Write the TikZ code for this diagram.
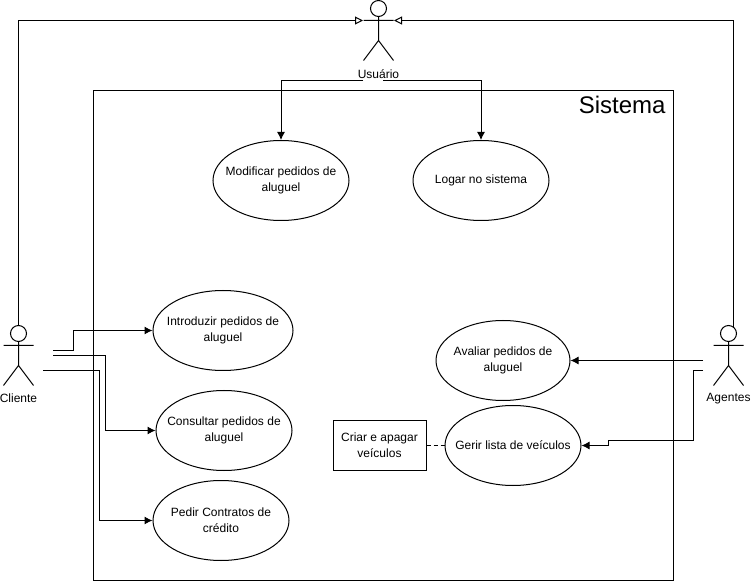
\documentclass[tikz,border=0pt]{standalone}
\usepackage{fontspec}
\setmainfont{Liberation Sans}
\usetikzlibrary{arrows.meta, shapes.geometric}
\tikzset{>={Latex[length=6pt, width=6pt]}}
\tikzset{
    usecase/.style={draw, ellipse, inner ysep=0pt, inner xsep=-30pt, minimum width=102pt, minimum height=60pt, align=center, font=\fontsize{9}{12}\selectfont},
    head/.style={draw, circle, inner sep=0pt, minimum size=12pt},
    actorname/.style={font=\fontsize{9}{11}\selectfont},
    conn/.style={->, line width=.75pt},
    inherit/.style={-{Triangle[open, length=6pt, width=6pt]}, line width=.75pt},
}

\begin{document}
\begin{tikzpicture}[x=.75pt, y=-.75pt, line width=.75pt]
    \useasboundingbox(0, -.5)rectangle(751, 580.5);
    % system box
    \node[draw, inner sep=0pt, minimum width=435pt, minimum height=367.5pt](sistema)at(383, 335){};
    \node[anchor=base east, inner sep=0pt, font=\fontsize{18}{20}\selectfont](titulo)at(666, 113){Sistema};
    % actors
    \node[head](usuario)at(378.5, 8){};
    \draw[shift={(378.5, 8)}](0, 8)--(0, 32)--(-15, 52) (0, 32)--(15, 52) (-15, 12)--(15, 12);
    \node[actorname](usuarioNome)at(378.5, 74){Usuário};
    \node[head](cliente)at(18.5, 333){};
    \draw[shift={(18.5, 333)}](0, 8)--(0, 32)--(-15, 52) (0, 32)--(15, 52) (-15, 12)--(15, 12);
    \node[actorname](clienteNome)at(18.5, 398){Cliente};
    \node[head](agentes)at(728.5, 333){};
    \draw[shift={(728.5, 333)}](0, 8)--(0, 32)--(-15, 52) (0, 32)--(15, 52) (-15, 12)--(15, 12);
    \node[actorname](agentesNome)at(728.5, 398){Agentes};
    % use cases
    \node[usecase](modificar)at(281, 180){Modificar pedidos de\\aluguel};
    \node[usecase](logar)at(481, 180){Logar no sistema};
    \node[usecase, minimum width=105pt](introduzir)at(223, 330){Introduzir pedidos de\\aluguel};
    \node[usecase](consultar)at(224, 430){Consultar pedidos de\\aluguel};
    \node[usecase](pedir)at(221, 520){Pedir Contratos de\\crédito};
    \node[usecase, minimum width=100.5pt](avaliar)at(503, 360){Avaliar pedidos de\\aluguel};
    \node[usecase](gerir)at(513, 445){Gerir lista de veículos};
    \node[draw, inner sep=0pt, minimum width=69.75pt, minimum height=37.5pt, align=center, font=\fontsize{9}{12}\selectfont](criar)at(379.5, 445){Criar e apagar\\veículos};
    % free ends beside the actors
    \coordinate(usuarioE)at(363, 20);
    \coordinate(usuarioD)at(394, 20);
    \coordinate(usuarioA)at(363, 80);
    \coordinate(usuarioB)at(383, 80);
    \coordinate(clienteA)at(53, 350);
    \coordinate(clienteB)at(53, 355);
    \coordinate(clienteC)at(43, 370);
    \coordinate(agentesA)at(703, 360);
    \coordinate(agentesB)at(703, 370);
    % connectors
    \draw[inherit](cliente.north)|-(usuarioE);
    \draw[inherit](agentes.51)|-(usuarioD);
    \draw[conn](usuarioA)-|(modificar.north);
    \draw[conn](usuarioB)-|(logar.north);
    \draw[conn](clienteA)--++(20, 0)|-(introduzir.west);
    \draw[conn](clienteB)--++(52, 0)|-(consultar.west);
    \draw[conn](clienteC)--++(56, 0)|-(pedir.west);
    \draw[conn](agentesA)--(agentesA-|avaliar.east);
    \draw[conn](agentesB)--++(-10, 0)--++(0, 70)--++(-85, 0)|-(gerir.east);
    \draw[dash pattern=on 3pt off 2.25pt](criar.east)--(gerir.west);
\end{tikzpicture}
\end{document}
